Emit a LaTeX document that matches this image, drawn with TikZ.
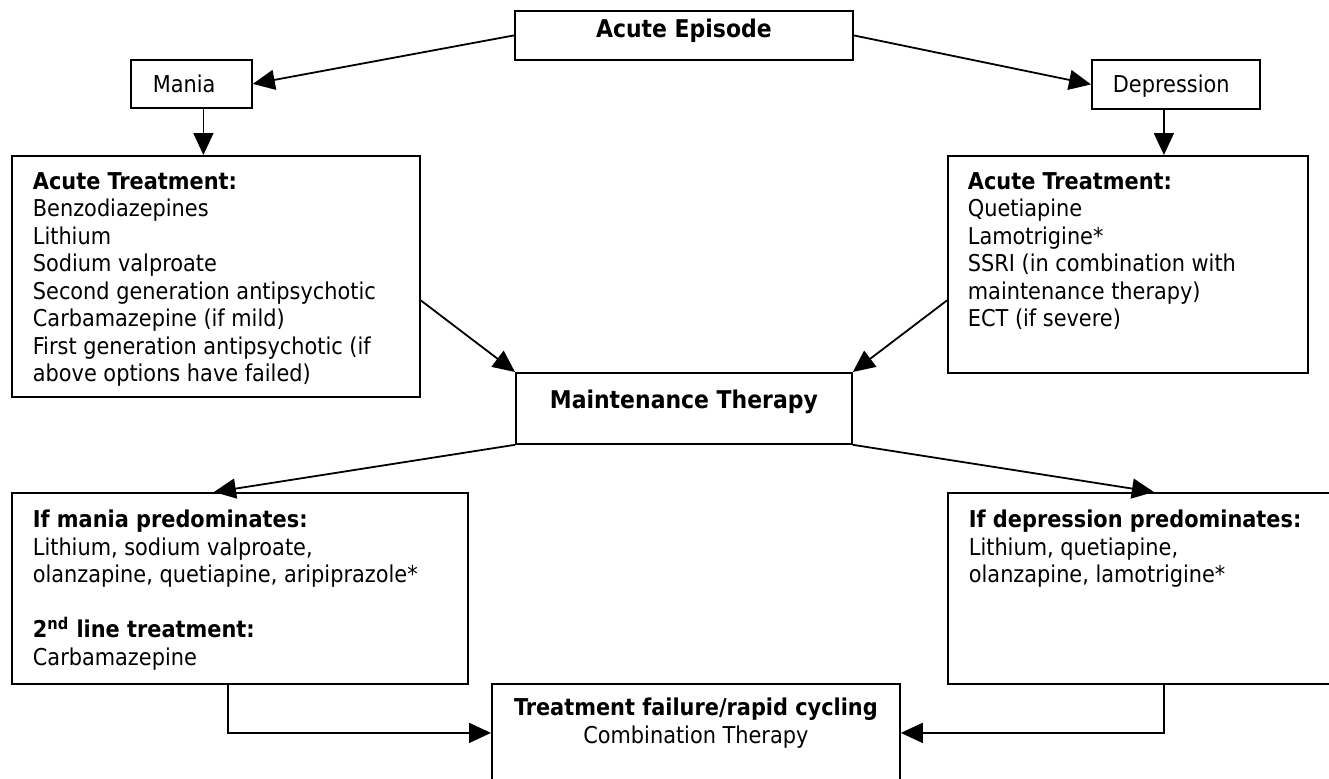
\documentclass[tikz,border=0pt]{standalone}
\usepackage{fontspec}
\setmainfont{DejaVu Sans Condensed}[BoldFont={DejaVu Sans Condensed Bold}]
\usepackage{tikz}
\usetikzlibrary{arrows.meta}

\newcommand{\txtfont}{\fontsize{11.6}{13.75}\selectfont}
\newcommand{\headfont}{\fontsize{12.2}{14}\selectfont\bfseries}
% width, height, first baseline, left pad, text
\newcommand{\boxtext}[5]{\parbox[c][#2][t]{#1}{\raggedright\leftskip=#4\relax\rule{0pt}{#3}#5}}

\tikzset{
  box/.style={draw, line width=0.9pt, inner sep=0pt, anchor=north west, font=\txtfont},
  conn/.style={line width=0.9pt, -{Triangle[length=11pt, width=10pt]}}
}

\begin{document}
\begin{tikzpicture}[x=0.5pt, y=-0.5pt]

\useasboundingbox (0,0) rectangle (1329,778);
\clip (0,0) rectangle (1329,778);

\node[box] (episode) at (514,10) {\boxtext{169pt}{24.5pt}{13.5pt}{0pt}{\centering\headfont Acute Episode}};
\node[box] (mania) at (130,59) {\boxtext{60.5pt}{24pt}{16.2pt}{11pt}{Mania}};
\node[box] (depression) at (1091,59) {\boxtext{84pt}{24.5pt}{16.5pt}{10.5pt}{Depression}};

\node[box] (acuteL) at (11,155) {\boxtext{204pt}{120.5pt}{16.7pt}{10.5pt}{\textbf{Acute Treatment:}\\
  Benzodiazepines\\ Lithium\\ Sodium valproate\\ Second generation antipsychotic\\
  Carbamazepine (if mild)\\ First generation antipsychotic (if\\ above options have failed)}};
\node[box] (acuteR) at (947,155) {\boxtext{180pt}{108.5pt}{16.7pt}{10pt}{\textbf{Acute Treatment:}\\
  Quetiapine\\ Lamotrigine*\\ SSRI (in combination with\\ maintenance therapy)\\ ECT (if severe)}};

\node[box] (maint) at (515,372) {\boxtext{168pt}{35.5pt}{18pt}{0pt}{\centering\headfont Maintenance Therapy}};

\node[box] (maniaP) at (11,492) {\boxtext{228pt}{95.5pt}{17.5pt}{10.5pt}{\textbf{If mania predominates:}\\
  Lithium, sodium valproate,\\ olanzapine, quetiapine, aripiprazole*\\[13.75pt]
  \textbf{2\textsuperscript{nd} line treatment:}\\ Carbamazepine}};
\node[box] (deprP) at (947,492) {\boxtext{200pt}{95.5pt}{17.5pt}{10.5pt}{\textbf{If depression predominates:}\\
  Lithium, quetiapine,\\ olanzapine, lamotrigine*}};

\node[box] (failure) at (491,683) {\boxtext{204pt}{49pt}{16pt}{0pt}{\centering\textbf{Treatment failure/rapid cycling}\\ Combination Therapy}};

\coordinate (maniaout) at ([xshift=6pt]mania.south);
\coordinate (deprout) at ([xshift=-6pt]depression.south);

\draw[conn] (episode.west) -- (mania.east);
\draw[conn] (episode.east) -- (depression.west);
\draw[conn] (maniaout) -- (maniaout |- acuteL.north);
\draw[conn] (deprout) -- (deprout |- acuteR.north);
\draw[conn] ([yshift=-12pt]acuteL.east) -- (maint.north west);
\draw[conn] ([yshift=-18pt]acuteR.west) -- (maint.north east);
\draw[conn] (maint.south west) -- ([xshift=-13pt]maniaP.north);
\draw[conn] (maint.south east) -- ([xshift=3pt]deprP.north);
\draw[conn] ([xshift=-6pt]maniaP.south) |- (failure.west);
\draw[conn] ([xshift=8pt]deprP.south) |- (failure.east);

\end{tikzpicture}
\end{document}
